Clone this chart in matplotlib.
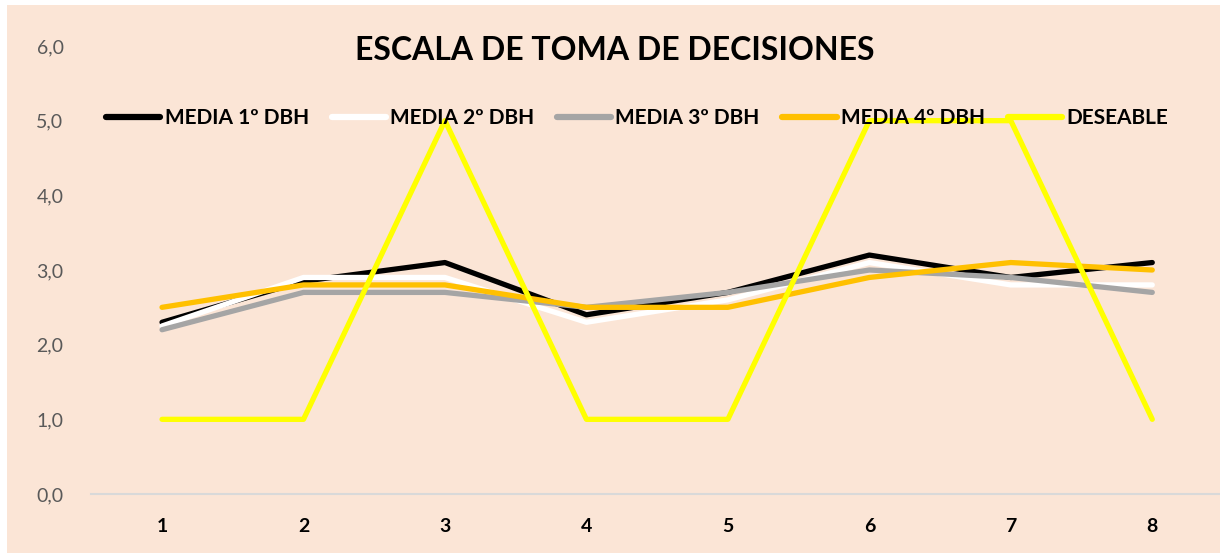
import matplotlib
matplotlib.use("Agg")
import matplotlib.pyplot as plt
from matplotlib.patches import Rectangle

# data
grupos = [1, 2, 3, 4, 5, 6, 7, 8]
media_1 = [2.3, 2.85, 3.1, 2.4, 2.7, 3.2, 2.9, 3.1]
media_2 = [2.25, 2.9, 2.9, 2.3, 2.6, 3.1, 2.8, 2.8]
media_3 = [2.2, 2.7, 2.7, 2.5, 2.7, 3.0, 2.9, 2.7]
media_4 = [2.5, 2.8, 2.8, 2.5, 2.5, 2.9, 3.1, 3.0]
deseable = [1, 1, 5, 1, 1, 5, 5, 1]

series = [
    ("MEDIA 1º DBH", media_1, "#000000"),
    ("MEDIA 2º DBH", media_2, "#FFFFFF"),
    ("MEDIA 3º DBH", media_3, "#A5A5A5"),
    ("MEDIA 4º DBH", media_4, "#FFC000"),
    ("DESEABLE", deseable, "#FFFF00"),
]

plt.rcParams["font.family"] = ["Lato", "DejaVu Sans"]

W, H = 1220, 553
fig = plt.figure(figsize=(W / 100, H / 100), dpi=100, facecolor="white")
fig.patches.append(Rectangle((7 / W, 0), 1, 1 - 5 / H, transform=fig.transFigure,
                             facecolor="#FBE5D6", edgecolor="none", zorder=-5))

ax = fig.add_axes([91.3 / W, (H - 494) / H, (1223 - 91.3) / W, (494 - 46) / H])
ax.set_facecolor("none")
ax.set_zorder(2)

for name, vals, col in series:
    ax.plot(grupos, vals, color=col, lw=3.8, label=name,
            solid_capstyle="round", solid_joinstyle="round")

ax.set_xlim(0.5, 8.5)
ax.set_ylim(0, 6)
ax.set_xticks(grupos)
ax.set_xticklabels([str(g) for g in grupos], fontweight="bold", fontsize=14, color="black")
ax.set_yticks(range(0, 7))
ax.set_yticklabels([f"{v},0" for v in range(0, 7)], fontsize=14, color="#595959")
ax.tick_params(axis="both", length=0)
ax.tick_params(axis="y", pad=20)
ax.tick_params(axis="x", pad=17)
for s in ["top", "right", "left"]:
    ax.spines[s].set_visible(False)
ax.spines["bottom"].set_color("#D9D9D9")
ax.spines["bottom"].set_linewidth(1.5)

fig.text(615 / W, 1 - 51 / H, "ESCALA DE TOMA DE DECISIONES", ha="center", va="center",
         fontsize=23, fontweight="bold", color="black")

leg = ax.legend(loc="center", bbox_to_anchor=(637 / W, 1 - 118 / H),
                bbox_transform=fig.transFigure, ncol=5, frameon=False,
                prop={"weight": "bold", "size": 15},
                handlelength=2.6, handletextpad=0.2, columnspacing=1.1,
                borderpad=0, borderaxespad=0)
for h in leg.get_lines():
    h.set_linewidth(4.5)

fig.savefig("out.png", dpi=100, facecolor="white")
